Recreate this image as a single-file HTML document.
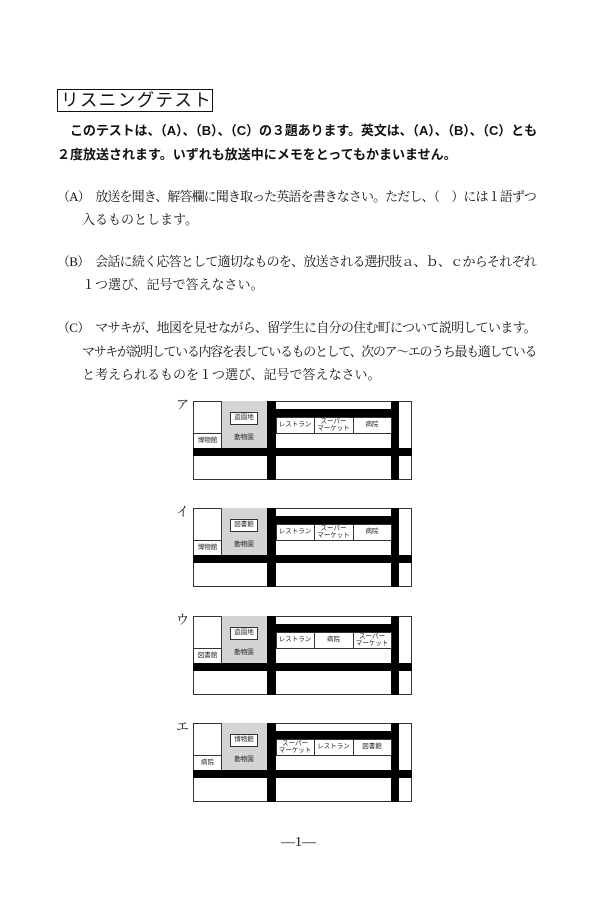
<!DOCTYPE html>
<html><head><meta charset="utf-8">
<style>
body{margin:0;background:#fff;}
#pg{position:relative;width:600px;height:900px;overflow:hidden;background:#fff;color:#111;}
.t{position:absolute;white-space:nowrap;line-height:1;}
.g{font-family:"Liberation Sans","Noto Sans CJK JP",sans-serif;font-weight:bold;font-size:13px;}
.m{font-family:"Liberation Serif","Noto Serif CJK SC",serif;font-size:13px;}
.b{position:absolute;background:#000;}
.bx{position:absolute;border:1px solid #333;box-sizing:border-box;}
.lab{position:absolute;font-family:"Liberation Sans","Noto Sans CJK JP",sans-serif;font-size:6.5px;color:#222;text-align:center;line-height:1.05;display:flex;align-items:center;justify-content:center;}
</style></head><body><div id="pg">
<div class="t" style="left:57px;top:89px;width:156px;height:23px;border:1.5px solid #111;box-sizing:border-box;font-family:'Liberation Sans','Noto Sans CJK JP',sans-serif;font-size:17.5px;line-height:20px;padding-left:3px;letter-spacing:1.4px;overflow:hidden;">リスニングテスト</div>

<div class="t g" style="left:70px;top:124px;">このテストは、（A）、（B）、（C）の３題あります。英文は、（A）、（B）、（C）とも</div>
<div class="t g" style="left:57px;top:148px;">２度放送されます。いずれも放送中にメモをとってもかまいません。</div>

<div class="t m" style="left:57px;top:190px;">（A）　放送を聞き、解答欄に聞き取った英語を書きなさい。ただし、（　）には１語ずつ</div>
<div class="t m" style="left:82px;top:213px;">入るものとします。</div>
<div class="t m" style="left:57px;top:255px;">（B）　会話に続く応答として適切なものを、放送される選択肢ａ、ｂ、ｃからそれぞれ</div>
<div class="t m" style="left:82px;top:278px;">１つ選び、記号で答えなさい。</div>
<div class="t m" style="left:57px;top:321px;">（C）　マサキが、地図を見せながら、留学生に自分の住む町について説明しています。</div>
<div class="t m" style="left:82px;top:345px;">マサキが説明している内容を表しているものとして、次のア～エのうち最も適している</div>
<div class="t m" style="left:82px;top:368px;">と考えられるものを１つ選び、記号で答えなさい。</div>

<div id="maps"></div>
<div class="t m" style="left:281px;top:836px;font-size:14px;">—1—</div>
</div>
<script>
var targets=[[ 'このテストは', 537],['（A）　放送',536],['（B）　会話',536],['（C）　マサキ',536],['マサキが説明',536]];
document.querySelectorAll('.t').forEach(function(e){
  targets.forEach(function(tg){
    if(e.textContent.indexOf(tg[0])===0){
      e.style.display='inline-block';
      var w=e.getBoundingClientRect().width;var left=parseFloat(e.style.left);
      var n=e.textContent.length;
      e.style.letterSpacing=((tg[1]-left-w)/n)+'px';
    }
  });
});
var data=[
 ['ア',401,'遊園地','博物館',[['レストラン'],['スーパー','マーケット'],['病院']]],
 ['イ',508,'図書館','博物館',[['レストラン'],['スーパー','マーケット'],['病院']]],
 ['ウ',616,'遊園地','図書館',[['レストラン'],['病院'],['スーパー','マーケット']]],
 ['エ',723,'博物館','病院',[['スーパー','マーケット'],['レストラン'],['図書館']]]
];
var h='';
data.forEach(function(d){
 var y=d[1];
 h+='<div class="t m" style="left:176px;top:'+(y-3)+'px;font-size:13px;">'+d[0]+'</div>';
 h+='<div class="bx" style="left:193px;top:'+y+'px;width:219px;height:79px;"></div>';
 h+='<div style="position:absolute;left:221px;top:'+y+'px;width:46px;height:47px;background:#d4d4d4;border-left:1px solid #444;"></div>';
 h+='<div class="bx" style="left:193px;top:'+(y+32)+'px;width:29px;height:16px;"></div>';
 h+='<div class="lab" style="left:193px;top:'+(y+32)+'px;width:29px;height:16px;">'+d[3]+'</div>';
 h+='<div class="bx" style="left:230px;top:'+(y+11)+'px;width:28px;height:13px;background:#fff;"></div>';
 h+='<div class="lab" style="left:230px;top:'+(y+11)+'px;width:28px;height:13px;">'+d[2]+'</div>';
 h+='<div class="lab" style="left:221px;top:'+(y+31)+'px;width:46px;height:12px;">動物園</div>';
 h+='<div class="b" style="left:193px;top:'+(y+47)+'px;width:219px;height:8px;"></div>';
 h+='<div class="b" style="left:267px;top:'+y+'px;width:9px;height:79px;"></div>';
 h+='<div class="b" style="left:391px;top:'+y+'px;width:8px;height:79px;"></div>';
 h+='<div class="b" style="left:276px;top:'+(y+8)+'px;width:115px;height:8px;"></div>';
 var xs=[276,314,353,391];
 for(var i=0;i<3;i++){
  h+='<div class="bx" style="left:'+xs[i]+'px;top:'+(y+16)+'px;width:'+(xs[i+1]-xs[i]+1)+'px;height:17px;"></div>';
  h+='<div class="lab" style="left:'+xs[i]+'px;top:'+(y+16)+'px;width:'+(xs[i+1]-xs[i])+'px;height:17px;">'+d[4][i].join('<br>')+'</div>';
 }
});
document.getElementById('maps').innerHTML=h;
</script>
</body></html>
